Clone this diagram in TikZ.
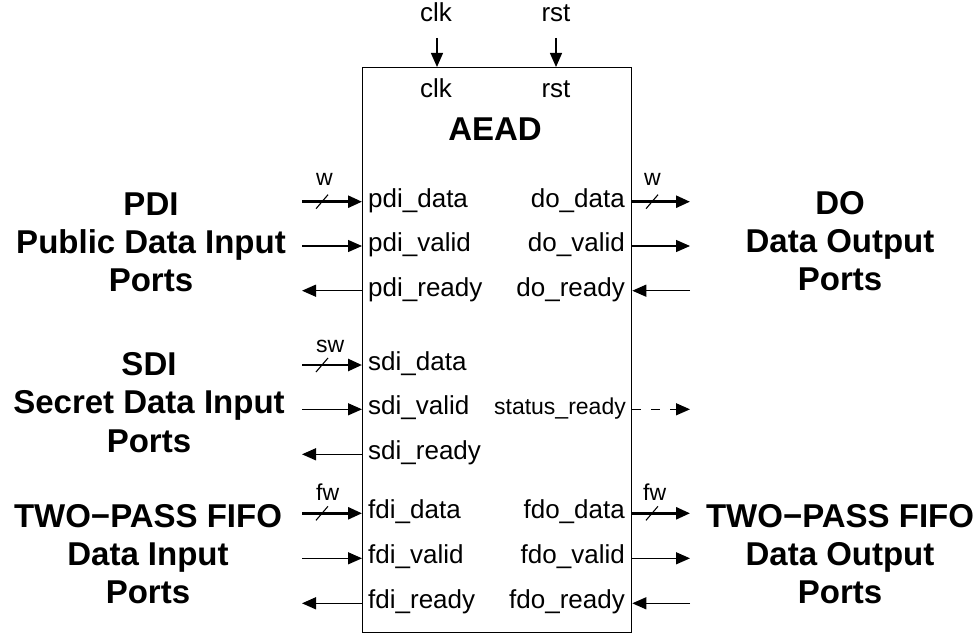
\documentclass[tikz,border=0pt]{standalone}
\usepackage{fontspec}
\setmainfont{Liberation Sans}
\usetikzlibrary{arrows.meta,positioning}

\tikzset{
  sig/.style={line width=1.3pt, -{Triangle[length=14pt,width=12pt]}},
  bus/.style={line width=2.6pt, -{Triangle[length=14pt,width=12pt]}},
  port/.style={inner sep=0pt, font=\fontsize{26}{29}\selectfont},
  group/.style={inner sep=0pt, anchor=base, font=\fontsize{33}{37}\selectfont\bfseries},
  width/.style={inner sep=0pt, anchor=base west, font=\fontsize{23}{26}\selectfont},
}
\newcommand{\busmark}[1]{\draw[line width=1.1pt] ([shift={(-6,7)}]#1) -- ([shift={(6,-7)}]#1);}

\begin{document}
\begin{tikzpicture}[x=1pt,y=-1pt]
  \useasboundingbox (0,0) rectangle (977,634);

  % core block
  \node[draw, line width=1.3pt, minimum width=269pt, minimum height=565pt, inner sep=0pt, anchor=north west] (aead) at (362,67) {};
  \node[group] (title) at (495,140) {AEAD};

  % clock and reset
  \node[port, anchor=base] (clk_in) at (436,97) {clk};
  \node[port, anchor=base] (rst_in) at (556,97) {rst};
  \node[port, anchor=base] (clk) at (436,22) {clk};
  \node[port, anchor=base] (rst) at (556,22) {rst};
  \coordinate (clk_src) at (437,38);
  \coordinate (rst_src) at (556,38);
  \draw[sig] (clk_src) -- (clk_src |- aead.north);
  \draw[sig] (rst_src) -- (rst_src |- aead.north);

  % input side ports
  \foreach \name/\y in {pdi_data/201.7, pdi_valid/246, pdi_ready/290.7,
                        sdi_data/365, sdi_valid/409.3, sdi_ready/454.3,
                        fdi_data/513.3, fdi_valid/558.3, fdi_ready/603.3}
    \node[port, anchor=base west] (\name) at (368,\y+5.5) {\detokenize\expandafter{\name}};

  % output side ports
  \foreach \name/\y in {do_data/201.7, do_valid/246, do_ready/290.7,
                        fdo_data/513.3, fdo_valid/558.3, fdo_ready/603.3}
    \node[port, anchor=base east] (\name) at (625,\y+5.5) {\detokenize\expandafter{\name}};
  \node[port, font=\fontsize{23}{26}\selectfont, anchor=base east] (status_ready) at (626,414.3) {status\_ready};

  % left wires
  \foreach \name/\y in {pdi_data/201.7, sdi_data/365, fdi_data/513.3} {
    \coordinate (\name_src) at (302,\y);
    \draw[bus] (\name_src) -- (\name_src -| aead.west);
    \busmark{322,\y}
  }
  \foreach \name/\y in {pdi_valid/246, sdi_valid/409.3, fdi_valid/558.3} {
    \coordinate (\name_src) at (302,\y);
    \draw[sig] (\name_src) -- (\name_src -| aead.west);
  }
  \foreach \name/\y in {pdi_ready/290.7, sdi_ready/454.3, fdi_ready/603.3} {
    \coordinate (\name_dst) at (302,\y);
    \draw[sig] (\name_dst -| aead.west) -- (\name_dst);
  }
  \node[width] (w_in) at (316,185) {w};
  \node[width] (sw_in) at (316,352) {sw};
  \node[width] (fw_in) at (316,500) {fw};

  % right wires
  \foreach \name/\y in {do_data/201.7, fdo_data/513.3} {
    \coordinate (\name_dst) at (690,\y);
    \draw[bus] (\name_dst -| aead.east) -- (\name_dst);
    \busmark{652,\y}
  }
  \foreach \name/\y in {do_valid/246, fdo_valid/558.3} {
    \coordinate (\name_dst) at (690,\y);
    \draw[sig] (\name_dst -| aead.east) -- (\name_dst);
  }
  \foreach \name/\y in {do_ready/290.7, fdo_ready/603.3} {
    \coordinate (\name_src) at (690,\y);
    \draw[sig] (\name_src) -- (\name_src -| aead.east);
  }
  \coordinate (status_dst) at (690,409.3);
  \draw[sig, dash pattern=on 9pt off 10pt] (status_dst -| aead.east) -- (status_dst);
  \node[width] (w_out) at (644,185) {w};
  \node[width] (fw_out) at (643,500) {fw};

  % interface groups
  \node[group] (pdi) at (151,215) {PDI};
  \node[group] (pdi_desc) at (151,253) {Public Data Input};
  \node[group] (pdi_ports) at (151,291) {Ports};
  \node[group] (sdi) at (149,375) {SDI};
  \node[group] (sdi_desc) at (149,413) {Secret Data Input};
  \node[group] (sdi_ports) at (149,452) {Ports};
  \node[group] (fdi) at (148,527) {TWO−PASS FIFO};
  \node[group] (fdi_desc) at (148,565) {Data Input};
  \node[group] (fdi_ports) at (148,603) {Ports};
  \node[group] (do) at (840,214) {DO};
  \node[group] (do_desc) at (840,252) {Data Output};
  \node[group] (do_ports) at (840,290) {Ports};
  \node[group] (fdo) at (840,527) {TWO−PASS FIFO};
  \node[group] (fdo_desc) at (840,565) {Data Output};
  \node[group] (fdo_ports) at (840,603) {Ports};
\end{tikzpicture}
\end{document}
